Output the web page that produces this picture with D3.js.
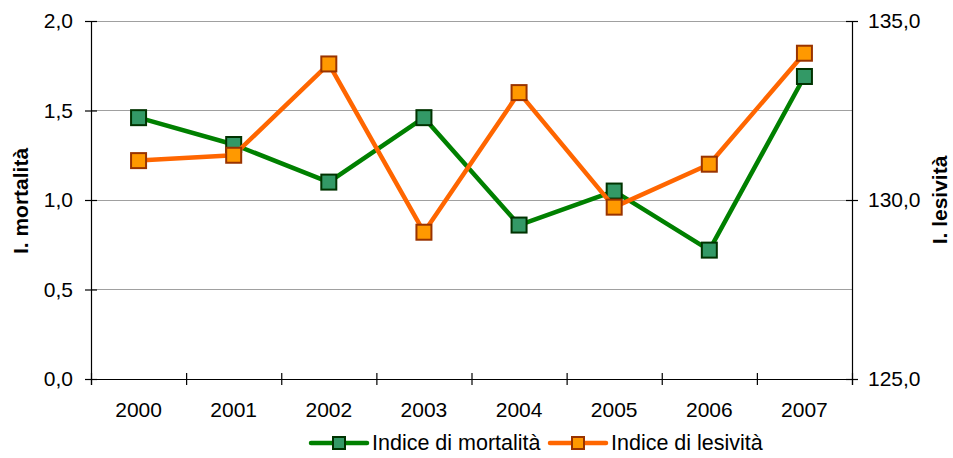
<!DOCTYPE html>
<html><head><meta charset="utf-8">
<script src="https://cdn.jsdelivr.net/npm/d3@7"></script>
<style>body{margin:0;background:#fff}svg{display:block;font-family:"Liberation Sans",Arial,sans-serif}</style>
</head><body><svg id="c" width="953" height="458"></svg>
<script>
const years = ["2000","2001","2002","2003","2004","2005","2006","2007"];
const mortalita = [1.46, 1.31, 1.10, 1.46, 0.86, 1.05, 0.72, 1.69];
const lesivita = [131.1, 131.25, 133.8, 129.1, 133.0, 129.8, 131.0, 134.1];
const leftTicks = [0, 0.5, 1.0, 1.5, 2.0];
const rightTicks = [125, 130, 135];
const seriesNames = ["Indice di mortalità", "Indice di lesività"];

const FS = 21;
const svg = d3.select("#c");
const L = 91, R = 852, T = 21, B = 379;
const x = d3.scaleBand().domain(years).range([L, R]);
const yL = d3.scaleLinear().domain([0, 2]).range([B, T]);
const yR = d3.scaleLinear().domain([125, 135]).range([B, T]);
const fmt1 = d => d.toFixed(1).replace(".", ",");

// gridlines
svg.append("g").selectAll("line").data(leftTicks.filter(d => d > 0)).join("line")
  .attr("x1", L).attr("x2", R).attr("y1", d => yL(d)).attr("y2", d => yL(d))
  .attr("stroke", "#a0a0a0").attr("stroke-width", 1).attr("shape-rendering", "crispEdges");

// left axis
const gl = svg.append("g").attr("transform", `translate(${L},0)`)
  .call(d3.axisLeft(yL).tickValues(leftTicks).tickFormat(fmt1).tickSize(6).tickPadding(12));
gl.selectAll(".tick line").attr("x2", -6).attr("x1", 6);
// right axis
const gr = svg.append("g").attr("transform", `translate(${R},0)`)
  .call(d3.axisRight(yR).tickValues(rightTicks).tickFormat(fmt1).tickSize(6).tickPadding(10));
gr.selectAll(".tick line").attr("x1", -6).attr("x2", 6);
// bottom axis
const xb = d3.scaleLinear().domain([0, years.length]).range([L, R]);
const gb = svg.append("g").attr("transform", `translate(0,${B})`)
  .call(d3.axisBottom(xb).tickValues(d3.range(years.length + 1)).tickFormat("").tickSize(6));
gb.selectAll(".tick line").attr("y1", -6).attr("y2", 6);
svg.append("g").selectAll("text").data(years).join("text")
  .attr("x", d => x(d) + x.bandwidth() / 2).attr("y", 417).attr("text-anchor", "middle")
  .attr("font-size", FS).attr("fill", "#000").text(d => d);

[gl, gr, gb].forEach(g => {
  g.select(".domain").attr("stroke", "#000").attr("stroke-width", 1.2);
  g.selectAll(".tick line").attr("stroke", "#000").attr("stroke-width", 1.2);
  g.selectAll("text").attr("font-size", FS).attr("fill", "#000").attr("font-family", "Liberation Sans, Arial, sans-serif");
});

// axis titles
svg.append("text").attr("transform", `translate(28,201) rotate(-90)`).attr("text-anchor", "middle")
  .attr("font-size", 21).attr("font-weight", "bold").text("I. mortalità");
svg.append("text").attr("transform", `translate(947,200) rotate(-90)`).attr("text-anchor", "middle")
  .attr("font-size", 21).attr("font-weight", "bold").text("I. lesività");

const cx = d => x(d) + x.bandwidth() / 2;
const styles = [
  {line: "#008000", fill: "#339966", stroke: "#003300"},
  {line: "#ff6600", fill: "#ff9900", stroke: "#993300"}
];
function drawSeries(vals, yScale, st) {
  const data = years.map((y, i) => [cx(y), yScale(vals[i])]);
  svg.append("path").attr("d", d3.line()(data)).attr("fill", "none")
    .attr("stroke", st.line).attr("stroke-width", 4.5).attr("stroke-linejoin", "round");
  svg.append("g").selectAll("rect").data(data).join("rect")
    .attr("x", d => d[0] - 7.5).attr("y", d => d[1] - 7.5).attr("width", 15).attr("height", 15)
    .attr("fill", st.fill).attr("stroke", st.stroke).attr("stroke-width", 2);
}
drawSeries(mortalita, yL, styles[0]);
drawSeries(lesivita, yR, styles[1]);

// legend
const leg = [{x0: 311, name: seriesNames[0], st: styles[0]}, {x0: 550, name: seriesNames[1], st: styles[1]}];
leg.forEach(l => {
  const yy = 443;
  svg.append("line").attr("x1", l.x0).attr("x2", l.x0 + 56).attr("y1", yy).attr("y2", yy)
    .attr("stroke", l.st.line).attr("stroke-width", 4.5).attr("stroke-linecap", "round");
  svg.append("rect").attr("x", l.x0 + 28 - 6).attr("y", yy - 6).attr("width", 12).attr("height", 12)
    .attr("fill", l.st.fill).attr("stroke", l.st.stroke).attr("stroke-width", 2);
  svg.append("text").attr("x", l.x0 + 61).attr("y", yy + 7).attr("font-size", 21.5).text(l.name);
});
</script></body></html>
